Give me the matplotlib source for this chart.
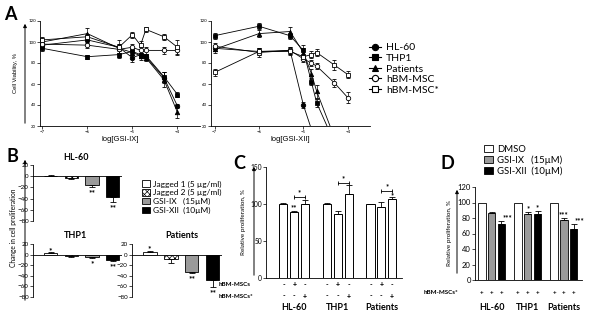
import matplotlib
matplotlib.use("Agg")
import matplotlib.pyplot as plt
from matplotlib.lines import Line2D
from matplotlib.patches import Patch, FancyArrowPatch

plt.rcParams['font.family'] = ['Lato', 'DejaVu Sans']
plt.rcParams['hatch.linewidth'] = 0.5
plt.rcParams['axes.linewidth'] = 0.6

W, H = 600, 315

# ── Panel A: dose-response (log molar) ────────────────────────────────────────
a_logc = [-7, -6, -5.3, -5, -4.82, -4.7, -4.3, -4]
a_series = ["HL-60", "THP1", "Patients", "hBM-MSC", "hBM-MSC*"]

ix_vals = {
    "HL-60":    [97, 102, 95, 85, 88, 86, 66, 39],
    "THP1":     [94, 86, 88, 91, 88, 87, 67, 50],
    "Patients": [100, 108, 94, 90, 87, 85, 64, 33],
    "hBM-MSC":  [98, 97, 93, 95, 92, 92, 92, 92],
    "hBM-MSC*": [102, 105, 95, 107, 97, 112, 105, 95],
}
ix_err = {
    "HL-60":    [3, 3, 3, 4, 3, 3, 5, 2],
    "THP1":     [3, 2, 3, 3, 3, 2, 4, 2],
    "Patients": [3, 5, 8, 4, 4, 3, 7, 5],
    "hBM-MSC":  [3, 3, 3, 3, 3, 3, 3, 3],
    "hBM-MSC*": [3, 3, 3, 3, 4, 2, 3, 7],
}
xii_vals = {
    "HL-60":    [94, 91, 92, 40, 17, 0, -30, -50],
    "THP1":     [106, 115, 106, 92, 62, 42, 4, -10],
    "Patients": [93, 108, 110, 90, 70, 53, 9, -5],
    "hBM-MSC":  [96, 90, 92, 84, 80, 77, 61, 47],
    "hBM-MSC*": [71, 91, 91, 86, 88, 90, 78, 69],
}
xii_err = {
    "HL-60":    [3, 3, 3, 3, 0, 0, 0, 0],
    "THP1":     [3, 3, 3, 5, 3, 4, 0, 0],
    "Patients": [3, 3, 4, 4, 4, 6, 0, 0],
    "hBM-MSC":  [3, 4, 3, 3, 3, 3, 4, 5],
    "hBM-MSC*": [3, 3, 3, 3, 3, 3, 5, 3],
}
a_marker = {"HL-60": ("o", "k"), "THP1": ("s", "k"), "Patients": ("^", "k"),
            "hBM-MSC": ("o", "w"), "hBM-MSC*": ("s", "w")}

# ── Panel B: change in proliferation ─────────────────────────────────────────
b_labels = ["Jagged 1 (5 µg/ml)", "Jagged 2 (5 µg/ml)",
            "GSI-IX   (15µM)", "GSI-XII  (10µM)"]
b_hl60 = [1, -3, -16, -37]
b_hl60_err = [0.5, 1.5, 4, 9]
b_hl60_sig = ["", "", "**", "**"]
b_thp1 = [3, -3, -5, -11]
b_thp1_err = [1, 1.5, 1.5, 2]
b_thp1_sig = ["*", "", "*", "**"]
b_pat = [5, -8, -32, -48]
b_pat_err = [2, 7, 3, 13]
b_pat_sig = ["*", "", "**", "**"]

# ── Panel C: co-culture with hBM-MSCs ─────────────────────────────────────────
c_groups = ["HL-60", "THP1", "Patients"]
c_vals = [[100, 89, 100], [100, 86, 114], [100, 96, 107]]
c_err = [[1, 1, 6], [1, 5, 12], [0, 7, 3]]
c_msc = ["-", "+", "-"]
c_msc_star = ["-", "-", "+"]

# ── Panel D: GSI on hBM-MSC* co-culture ───────────────────────────────────────
d_labels = ["DMSO", "GSI-IX   (15µM)", "GSI-XII  (10µM)"]
d_vals = [[100, 87, 72], [100, 85, 85], [100, 77, 66]]
d_err = [[0, 1, 4], [0, 3, 4], [0, 3, 6]]
d_sig = [["", "", "***"], ["", "*", "*"], ["", "***", "***"]]


def rect(l, t, r, b):
    return [l / W, 1 - b / H, (r - l) / W, (b - t) / H]


def fxy(x, y):
    return x / W, 1 - y / H


def ftext(fig, x, y, s, **kw):
    fig.text(*fxy(x, y), s, **kw)


def farrow(fig, x, y0, y1):
    fig.add_artist(FancyArrowPatch(fxy(x, y0), fxy(x, y1), transform=fig.transFigure,
                                   arrowstyle="-|>", mutation_scale=5, lw=0.7, color="k"))


def style(ax, fs):
    for s in ("top", "right"):
        ax.spines[s].set_visible(False)
    ax.tick_params(labelsize=fs, length=2, width=0.5, pad=1)


fig = plt.figure(figsize=(6, 3.15), dpi=100)

# ── A ────────────────────────────────────────────────────────────────────────
axA1 = fig.add_axes(rect(40, 21, 200, 126))
axA2 = fig.add_axes(rect(211, 21, 370, 126))
handles = []
for ax, vals, errs, xl in [(axA1, ix_vals, ix_err, "log[GSI-IX]"),
                           (axA2, xii_vals, xii_err, "log[GSI-XII]")]:
    for name in a_series:
        m, fc = a_marker[name]
        h = ax.errorbar(a_logc, vals[name], yerr=errs[name], color="k", lw=0.6,
                        marker=m, ms=3.2, mfc=fc, mec="k", mew=0.6,
                        elinewidth=0.5, capsize=1.5, capthick=0.5)
        if ax is axA1:
            handles.append(Line2D([], [], color="k", lw=0.8, marker=m, ms=4.5,
                                  mfc=fc, mec="k", mew=0.8))
    ax.set_xlim(-7.05, -3.5)
    ax.set_ylim(20, 120)
    ax.set_xticks([-7, -6, -5, -4])
    ax.set_yticks([20, 40, 60, 80, 100, 120])
    style(ax, 3.2)
    ax.set_xlabel(xl, fontsize=5.5, labelpad=1, family=["Liberation Sans"])
axA2.set_xlim(-7.08, -3.5)
fig.legend(handles, a_series, loc="upper left", bbox_to_anchor=fxy(365, 39),
           frameon=False, fontsize=7.5, handlelength=1.1, handletextpad=0.5,
           labelspacing=0.12, borderaxespad=0)
ftext(fig, 4, 14, "A", fontsize=13, fontweight="bold", va="center")
ftext(fig, 16, 73, "Cell Viability, %", fontsize=4.2, rotation=90,
      ha="center", va="center", family=["Liberation Sans"])
farrow(fig, 25, 126, 21)

# ── B ────────────────────────────────────────────────────────────────────────
b_face = ["white", "white", "#9a9a9a", "black"]
b_hatch = [None, "xxxxxx", None, None]


def bar_panel(ax, vals, errs, sig, title, tx):
    for i, v in enumerate(vals):
        e = errs[i]
        ax.bar(i, v, width=0.65, color=b_face[i], edgecolor="k", lw=0.6,
               hatch=b_hatch[i], zorder=2)
        yerr = [[e], [0]] if v < 0 else [[0], [e]]
        ax.errorbar(i, v, yerr=yerr, color="k", elinewidth=0.6, capsize=2,
                    capthick=0.6, zorder=3)
        if sig[i]:
            if v < 0:
                ax.annotate(sig[i], (i, v - e), xytext=(0, -1.5), textcoords="offset points",
                            ha="center", va="top", fontsize=6, fontweight="bold")
            else:
                ax.annotate(sig[i], (i, v + e), xytext=(0, -1), textcoords="offset points",
                            ha="center", va="bottom", fontsize=6, fontweight="bold",
                            annotation_clip=False)
    ax.axhline(0, color="k", lw=0.6, zorder=1)
    ax.set_xlim(-0.85, 3.45)
    ax.set_ylim(-80, 20)
    ax.set_yticks([20, 0, -20, -40, -60, -80])
    ax.set_xticks([])
    ax.spines["bottom"].set_visible(False)
    style(ax, 4.5)
    ftext(fig, tx[0], tx[1], title, fontsize=6.5, fontweight="bold", ha="center", va="center")


axB1 = fig.add_axes(rect(33, 165, 122, 221))
axB2 = fig.add_axes(rect(33, 244, 122, 297))
axB3 = fig.add_axes(rect(132, 244, 222, 297))
bar_panel(axB1, b_hl60, b_hl60_err, b_hl60_sig, "HL-60", (76, 158))
bar_panel(axB2, b_thp1, b_thp1_err, b_thp1_sig, "THP1", (76, 236))
bar_panel(axB3, b_pat, b_pat_err, b_pat_sig, "Patients", (182, 236))
b_handles = [Patch(facecolor=b_face[i], edgecolor="k", lw=0.6, hatch=b_hatch[i])
             for i in range(4)]
fig.legend(b_handles, b_labels, loc="upper left", bbox_to_anchor=fxy(139, 177),
           frameon=False, fontsize=6, handlelength=0.9, handleheight=0.8,
           handletextpad=0.4, labelspacing=0.2, borderaxespad=0)
ftext(fig, 6, 157, "B", fontsize=13, fontweight="bold", va="center")
ftext(fig, 14, 228, "Change in cell proliferation", fontsize=4.8, rotation=90,
      ha="center", va="center")
farrow(fig, 25, 303, 157)

# ── C ────────────────────────────────────────────────────────────────────────
axC = fig.add_axes(rect(266, 167, 402, 278))
for g, name in enumerate(c_groups):
    for j in range(3):
        x = g * 4 + j - 1
        ax = axC
        ax.bar(x, c_vals[g][j], width=0.75, color="white", edgecolor="k", lw=0.7)
        ax.errorbar(x, c_vals[g][j], yerr=[[0], [c_err[g][j]]], color="k",
                    elinewidth=0.6, capsize=2, capthick=0.6)
axC.set_xlim(-2.6, 9.9)
axC.set_ylim(0, 150)
axC.set_yticks([0, 50, 100, 150])
axC.set_xticks([])
style(axC, 4.8)
# significance
axC.annotate("**", (0, c_vals[0][1] + c_err[0][1]), xytext=(0, 0), textcoords="offset points",
             ha="center", va="bottom", fontsize=5.5, fontweight="bold")
c_brackets = [(0, 1, 109), (4, 5, 128), (8, 9, 118)]
for x1, x2, y in c_brackets:
    axC.plot([x1, x2], [y, y], color="k", lw=0.6)
    axC.plot([x1, x2], [y, y], "|", color="k", ms=2.5, mew=0.6)
    axC.text((x1 + x2) / 2, y + 1, "*", ha="center", va="bottom", fontsize=5.5, fontweight="bold")
axC.annotate("*", (9, c_vals[2][2] + c_err[2][2]), xytext=(0, -1.5), textcoords="offset points",
             ha="center", va="bottom", fontsize=5.5, fontweight="bold")
tr = axC.get_xaxis_transform()
hC = 278 - 167
for g, name in enumerate(c_groups):
    for j in range(3):
        x = g * 4 + j - 1
        axC.text(x, (278 - 285) / hC, c_msc[j], transform=tr, ha="center", va="center",
                 fontsize=5, fontweight="bold")
        axC.text(x, (278 - 296) / hC, c_msc_star[j], transform=tr, ha="center", va="center",
                 fontsize=5, fontweight="bold")
    axC.text(g * 4, (278 - 307) / hC, name, transform=tr, ha="center", va="center",
             fontsize=6.5, fontweight="bold")
ftext(fig, 251, 285, "hBM-MSCs", fontsize=4.5, fontweight="bold", ha="right", va="center")
ftext(fig, 253, 296, "hBM-MSCs*", fontsize=4.5, fontweight="bold", ha="right", va="center")
ftext(fig, 233, 163, "C", fontsize=13, fontweight="bold", va="center")
ftext(fig, 243, 222, "Relative proliferation, %", fontsize=4.5, rotation=90,
      ha="center", va="center")
farrow(fig, 254, 278, 164)

# ── D ────────────────────────────────────────────────────────────────────────
axD = fig.add_axes(rect(475, 187, 582, 280))
d_face = ["white", "#9a9a9a", "black"]
for g, name in enumerate(c_groups):
    for j in range(3):
        x = g * 3.7 + j - 1
        v, e = d_vals[g][j], d_err[g][j]
        axD.bar(x, v, width=0.75, color=d_face[j], edgecolor="k", lw=0.6)
        if e:
            axD.errorbar(x, v, yerr=[[0], [e]], color="k", elinewidth=0.6,
                         capsize=2, capthick=0.6)
        s = d_sig[g][j]
        if s:
            if j == 2 and len(s) == 3:
                axD.annotate(s, (x, v + e), xytext=(1, 0), textcoords="offset points",
                             ha="left", va="bottom", fontsize=5.5, fontweight="bold")
            else:
                axD.annotate(s, (x, v + e), xytext=(0, 0), textcoords="offset points",
                             ha="center", va="bottom", fontsize=5.5, fontweight="bold")
axD.set_xlim(-1.7, 9.25)
axD.set_ylim(0, 120)
axD.set_yticks([0, 20, 40, 60, 80, 100, 120])
axD.set_xticks([])
style(axD, 5.5)
trD = axD.get_xaxis_transform()
hD = 280 - 187
for g, name in enumerate(c_groups):
    for j in range(3):
        axD.text(g * 3.7 + j - 1, (280 - 292) / hD, "+", transform=trD, ha="center",
                 va="center", fontsize=4.5, fontweight="bold")
    axD.text(g * 3.7, (280 - 308) / hD, name, transform=trD, ha="center", va="center",
             fontsize=6.5, fontweight="bold")
ftext(fig, 458, 292, "hBM-MSCs*", fontsize=4.5, fontweight="bold", ha="right", va="center")
d_handles = [Patch(facecolor=c, edgecolor="k", lw=0.6) for c in d_face]
fig.legend(d_handles, d_labels, loc="upper left", bbox_to_anchor=fxy(480, 141),
           frameon=False, fontsize=6.8, handlelength=1.0, handleheight=0.8,
           handletextpad=0.4, labelspacing=0.15, borderaxespad=0)
ftext(fig, 441, 163, "D", fontsize=13, fontweight="bold", va="center")
ftext(fig, 450, 233, "Relative proliferation, %", fontsize=4.5, rotation=90,
      ha="center", va="center")
farrow(fig, 457, 276, 187)

fig.savefig("out.png", dpi=100)
